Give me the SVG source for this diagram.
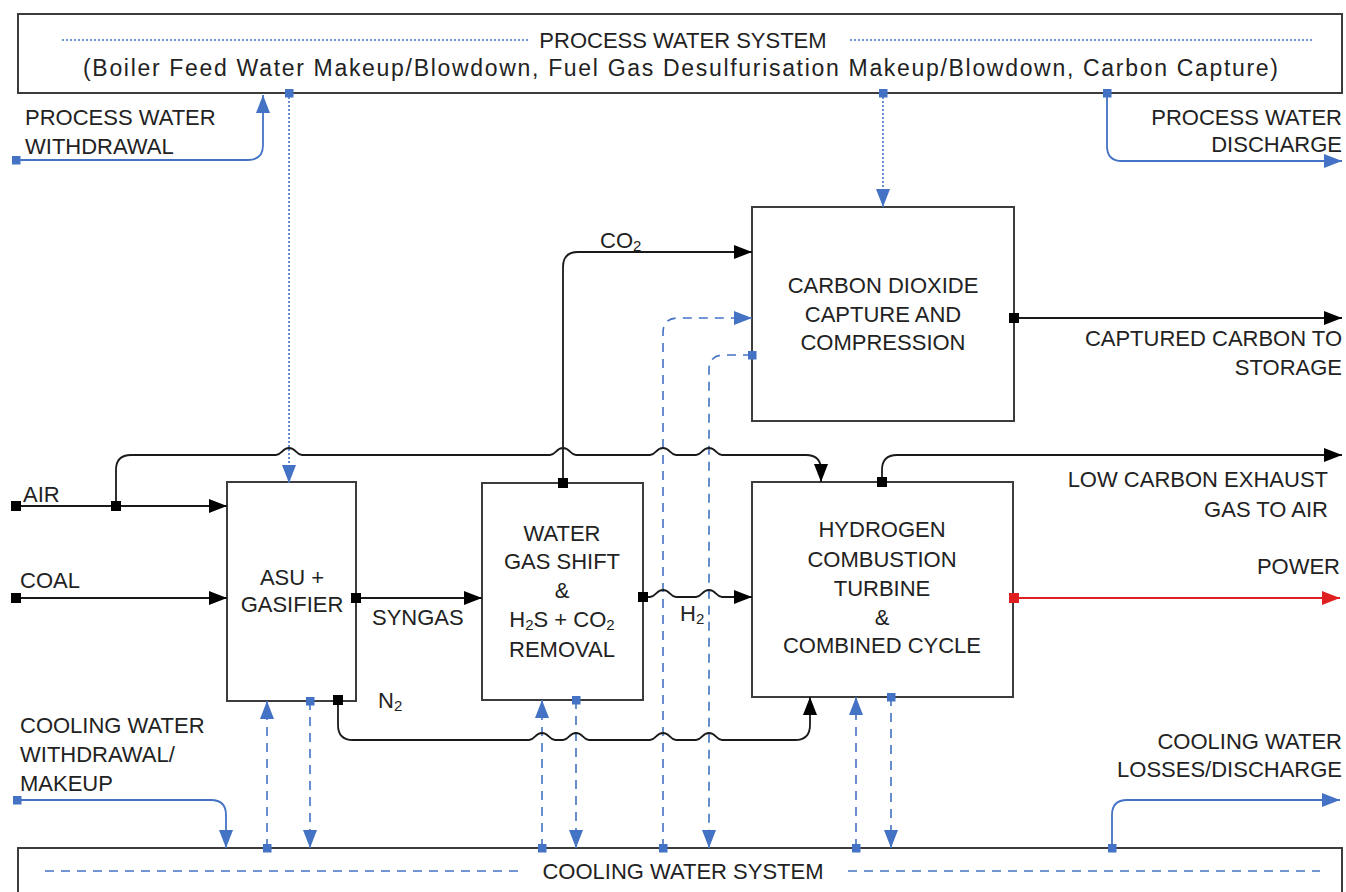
<svg xmlns="http://www.w3.org/2000/svg" width="1346" height="892" viewBox="0 0 1346 892">
<style>
  text { font-family: "Liberation Sans", Arial, sans-serif; font-size: 22px; fill: #222; }
  .c { text-anchor: middle; }
  .r { text-anchor: end; }
  .box { fill: #fff; stroke: #3c3c3c; stroke-width: 2; }
  .k { fill: none; stroke: #1a1a1a; stroke-width: 1.8; }
  .bs { fill: none; stroke: #4472c4; stroke-width: 1.8; }
  .bd { fill: none; stroke: #4472c4; stroke-width: 1.6; stroke-dasharray: 9 7; }
  .bt { fill: none; stroke: #4472c4; stroke-width: 1.6; stroke-dasharray: 2 2; }
  .red { fill: none; stroke: #e02020; stroke-width: 1.8; }
  .sub { font-size: 15px; }
  .long { font-size: 23px; }
</style>
<defs>
  <marker id="aK" markerUnits="userSpaceOnUse" markerWidth="18" markerHeight="14" refX="18" refY="7" orient="auto"><path d="M0,0 L18,7 L0,14 Z" fill="#000"/></marker>
  <marker id="aB" markerUnits="userSpaceOnUse" markerWidth="18" markerHeight="14" refX="18" refY="7" orient="auto"><path d="M0,0 L18,7 L0,14 Z" fill="#4472c4"/></marker>
  <marker id="aR" markerUnits="userSpaceOnUse" markerWidth="18" markerHeight="14" refX="18" refY="7" orient="auto"><path d="M0,0 L18,7 L0,14 Z" fill="#e02020"/></marker>
  <marker id="sK" markerUnits="userSpaceOnUse" markerWidth="10" markerHeight="10" refX="5" refY="5"><rect width="10" height="10" fill="#000"/></marker>
  <marker id="sB" markerUnits="userSpaceOnUse" markerWidth="9" markerHeight="9" refX="4.5" refY="4.5"><rect width="9" height="9" fill="#4472c4"/></marker>
  <marker id="sR" markerUnits="userSpaceOnUse" markerWidth="10" markerHeight="10" refX="5" refY="5"><rect width="10" height="10" fill="#e02020"/></marker>
</defs>
<rect width="1346" height="892" fill="#fff"/>

<g id="process-water-system">
  <rect class="box" x="18" y="14" width="1324" height="79"/>
  <line class="bt" x1="62" y1="40" x2="530" y2="40"/>
  <line class="bt" x1="850" y1="40" x2="1313" y2="40"/>
  <text class="c" x="683" y="48">PROCESS WATER SYSTEM</text>
  <text class="long" x="83" y="76" textLength="1195" lengthAdjust="spacing">(Boiler Feed Water Makeup/Blowdown, Fuel Gas Desulfurisation Makeup/Blowdown, Carbon Capture)</text>
</g>

<g id="cooling-water-system">
  <rect class="box" x="18" y="848" width="1324" height="60"/>
  <line class="bd" x1="45" y1="871" x2="520" y2="871"/>
  <line class="bd" x1="848" y1="871" x2="1320" y2="871"/>
  <text class="c" x="683" y="879">COOLING WATER SYSTEM</text>
</g>

<g id="asu-gasifier">
  <rect class="box" x="227" y="482" width="129" height="219"/>
  <text class="c" x="292" y="585">ASU +</text>
  <text class="c" x="292" y="612">GASIFIER</text>
</g>

<g id="water-gas-shift">
  <rect class="box" x="482" y="483" width="161" height="217"/>
  <text class="c" x="562" y="541">WATER</text>
  <text class="c" x="562" y="569">GAS SHIFT</text>
  <text class="c" x="562" y="598">&amp;</text>
  <text class="c" x="562" y="627">H<tspan class="sub" dy="3">2</tspan><tspan dy="-3">S + CO</tspan><tspan class="sub" dy="3">2</tspan></text>
  <text class="c" x="562" y="657">REMOVAL</text>
</g>

<g id="carbon-capture">
  <rect class="box" x="752" y="207" width="262" height="214"/>
  <text class="c" x="883" y="293">CARBON DIOXIDE</text>
  <text class="c" x="883" y="322">CAPTURE AND</text>
  <text class="c" x="883" y="350">COMPRESSION</text>
</g>

<g id="hydrogen-turbine">
  <rect class="box" x="752" y="482" width="261" height="215"/>
  <text class="c" x="882" y="537">HYDROGEN</text>
  <text class="c" x="882" y="567">COMBUSTION</text>
  <text class="c" x="882" y="596">TURBINE</text>
  <text class="c" x="882" y="625">&amp;</text>
  <text class="c" x="882" y="653">COMBINED CYCLE</text>
</g>

<g id="connectors">
  <!-- process water -->
  <path class="bs" d="M16,160 L248,160 Q263,160 263,145 L263,95" marker-start="url(#sB)" marker-end="url(#aB)"/>
  <path class="bs" d="M1107,93 L1107,146 Q1107,161 1122,161 L1342,161" marker-start="url(#sB)" marker-end="url(#aB)"/>
  <path class="bt" d="M289,93 L289,483" marker-start="url(#sB)" marker-end="url(#aB)"/>
  <path class="bt" d="M883,93 L883,207" marker-start="url(#sB)" marker-end="url(#aB)"/>
  <!-- cooling water -->
  <path class="bs" d="M17,800 L211,800 Q226,800 226,815 L226,848" marker-start="url(#sB)" marker-end="url(#aB)"/>
  <path class="bs" d="M1112,848 L1112,815 Q1112,800 1127,800 L1340,800" marker-start="url(#sB)" marker-end="url(#aB)"/>
  <path class="bd" d="M267,848 L267,701" marker-start="url(#sB)" marker-end="url(#aB)"/>
  <path class="bd" d="M310,701 L310,848" marker-start="url(#sB)" marker-end="url(#aB)"/>
  <path class="bd" d="M542,848 L542,700" marker-start="url(#sB)" marker-end="url(#aB)"/>
  <path class="bd" d="M576,700 L576,848" marker-start="url(#sB)" marker-end="url(#aB)"/>
  <path class="bd" d="M663,848 L663,333 Q663,318 678,318 L752,318" marker-start="url(#sB)" marker-end="url(#aB)"/>
  <path class="bd" d="M752,355 L724,355 Q709,355 709,370 L709,848" marker-start="url(#sB)" marker-end="url(#aB)"/>
  <path class="bd" d="M856,848 L856,697" marker-start="url(#sB)" marker-end="url(#aB)"/>
  <path class="bd" d="M891,697 L891,848" marker-start="url(#sB)" marker-end="url(#aB)"/>
  <!-- process streams -->
  <path class="k" d="M16,506 L227,506" marker-start="url(#sK)" marker-end="url(#aK)"/>
  <path class="k" d="M116,506 L116,470 Q116,455 131,455 L276,455 C282,455 282,448 289,448 C296,448 296,455 302,455 L550,455 C556,455 556,448 563,448 C570,448 570,455 576,455 L650,455 C656,455 656,448 663,448 C670,448 670,455 676,455 L696,455 C702,455 702,448 709,448 C716,448 716,455 722,455 L806,455 Q821,455 821,470 L821,482" marker-start="url(#sK)" marker-end="url(#aK)"/>
  <path class="k" d="M16,598 L227,598" marker-start="url(#sK)" marker-end="url(#aK)"/>
  <path class="k" d="M356,598 L482,598" marker-start="url(#sK)" marker-end="url(#aK)"/>
  <path class="k" d="M563,483 L563,267 Q563,252 578,252 L752,252" marker-start="url(#sK)" marker-end="url(#aK)"/>
  <path class="k" d="M643,597 L650,597 C656,597 656,590 663,590 C670,590 670,597 676,597 L696,597 C702,597 702,590 709,590 C716,590 716,597 722,597 L752,597" marker-start="url(#sK)" marker-end="url(#aK)"/>
  <path class="k" d="M338,700 L338,725 Q338,740 353,740 L529,740 C535,740 535,733 542,733 C549,733 549,740 555,740 L563,740 C569,740 569,733 576,733 C583,733 583,740 589,740 L650,740 C656,740 656,733 663,733 C670,733 670,740 676,740 L696,740 C702,740 702,733 709,733 C716,733 716,740 722,740 L795,740 Q810,740 810,725 L810,697" marker-start="url(#sK)" marker-end="url(#aK)"/>
  <path class="k" d="M1014,318 L1342,318" marker-start="url(#sK)" marker-end="url(#aK)"/>
  <path class="k" d="M882,482 L882,470 Q882,455 897,455 L1342,455" marker-start="url(#sK)" marker-end="url(#aK)"/>
  <path class="red" d="M1014,598 L1340,598" marker-start="url(#sR)" marker-end="url(#aR)"/>
  <!-- connector labels -->
  <text x="25" y="125">PROCESS WATER</text>
  <text x="25" y="154">WITHDRAWAL</text>
  <text class="r" x="1342" y="125">PROCESS WATER</text>
  <text class="r" x="1342" y="152">DISCHARGE</text>
  <text x="600" y="248">CO<tspan class="sub" dy="3">2</tspan></text>
  <text class="r" x="1342" y="346">CAPTURED CARBON TO</text>
  <text class="r" x="1342" y="375">STORAGE</text>
  <text class="r" x="1328" y="487">LOW CARBON EXHAUST</text>
  <text class="r" x="1328" y="517">GAS TO AIR</text>
  <text class="r" x="1340" y="574">POWER</text>
  <text x="23" y="502">AIR</text>
  <text x="20" y="588">COAL</text>
  <text x="372" y="625">SYNGAS</text>
  <text x="378" y="708">N<tspan class="sub" dy="3">2</tspan></text>
  <text x="680" y="621">H<tspan class="sub" dy="3">2</tspan></text>
  <text x="20" y="733">COOLING WATER</text>
  <text x="20" y="762">WITHDRAWAL/</text>
  <text x="20" y="791">MAKEUP</text>
  <text class="r" x="1342" y="749">COOLING WATER</text>
  <text class="r" x="1342" y="777">LOSSES/DISCHARGE</text>
</g>
</svg>
